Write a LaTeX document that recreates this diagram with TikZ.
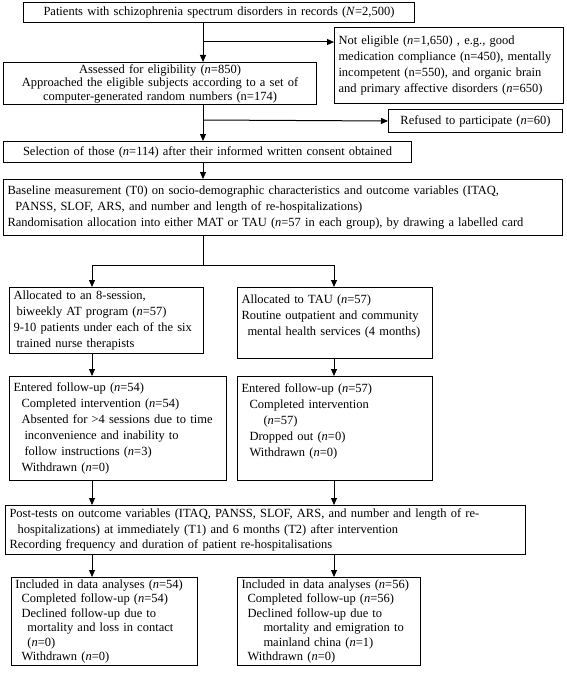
\documentclass[tikz,border=0pt]{standalone}
\usepackage{fontspec}
\setmainfont{Liberation Serif}
\usetikzlibrary{arrows.meta}
\newcommand{\nn}{\textit{n}}

\begin{document}
\begin{tikzpicture}[x=1pt, y=-1pt,
    box/.style={draw, line width=1pt, anchor=north west, inner xsep=4pt, inner ysep=2pt,
      font=\fontsize{12.5}{16}\selectfont},
    cbox/.style={box, align=center},
    lbox/.style={box, align=left},
    tight/.style={font=\fontsize{12.5}{#1}\selectfont},
    flow/.style={-{Triangle[length=7pt, width=6pt]}, line width=1pt},
    link/.style={line width=1pt}
  ]
  \useasboundingbox (0,0) rectangle (567,674);

  % Screening
  \node[cbox, text width=383pt, minimum height=20pt] (patients) at (23,2)
    {Patients with schizophrenia spectrum disorders in records (\textit{N}=2,500)};
  \node[lbox, text width=221pt, minimum height=76pt] (noteligible) at (334,27)
    {Not eligible (\nn=1,650) , e.g., good\\
     medication compliance (n=450), mentally\\
     incompetent (n=550), and organic brain\\
     and primary affective disorders (\nn=650)};
  \node[cbox, tight=13.5, text width=305pt, minimum height=40pt] (assessed) at (3,62)
    {Assessed for eligibility (\nn=850)\\
     Approached the eligible subjects according to a set of\\
     computer-generated random numbers (n=174)};
  \node[cbox, text width=166pt, minimum height=23pt] (refused) at (388,109)
    {Refused to participate (\nn=60)};
  \node[cbox, text width=400pt, minimum height=21pt] (selection) at (3,141)
    {Selection of those (\nn=114) after their informed written consent obtained};

  % Baseline and randomisation
  \node[lbox, text width=551pt, minimum height=56pt] (baseline) at (3,179)
    {Baseline measurement (T0) on socio-demographic characteristics and outcome variables (ITAQ,\\
     \hspace*{8pt}PANSS, SLOF, ARS, and number and length of re-hospitalizations)\\
     Randomisation allocation into either MAT or TAU (\nn=57 in each group), by drawing a labelled card};

  % Two arms
  \node[lbox, text width=186pt, minimum height=66pt] (allocmat) at (9,287)
    {Allocated to an 8-session,\\
     \hspace*{3pt}biweekly AT program (\nn=57)\\
     9-10 patients under each of the six\\
     \hspace*{3pt}trained nurse therapists};
  \node[lbox, text width=187pt, minimum height=71pt] (alloctau) at (237,287)
    {Allocated to TAU (\nn=57)\\
     Routine outpatient and community\\
     \hspace*{6pt}mental health services (4 months)\\
     \mbox{}};
  \node[lbox, text width=209pt, minimum height=104pt] (entermat) at (9,376)
    {Entered follow-up (\nn=54)\\
     \hspace*{8pt}Completed intervention (\nn=54)\\
     \hspace*{8pt}Absented for >4 sessions due to time\\
     \hspace*{11pt}inconvenience and inability to\\
     \hspace*{11pt}follow instructions (\nn=3)\\
     \hspace*{8pt}Withdrawn (\nn=0)};
  \node[lbox, text width=187pt, minimum height=104pt] (entertau) at (237,376)
    {Entered follow-up (\nn=57)\\
     \hspace*{8pt}Completed intervention\\
     \hspace*{22pt}(\nn=57)\\
     \hspace*{8pt}Dropped out (\nn=0)\\
     \hspace*{8pt}Withdrawn (\nn=0)\\
     \mbox{}};

  % Post-tests and analyses
  \node[lbox, tight=15.5, text width=512pt, minimum height=49pt] (posttest) at (5,505)
    {Post-tests on outcome variables (ITAQ, PANSS, SLOF, ARS, and number and length of re-\\
     \hspace*{8pt}hospitalizations) at immediately (T1) and 6 months (T2) after intervention\\
     Recording frequency and duration of patient re-hospitalisations};
  \node[lbox, tight=14.5, text width=178pt, minimum height=88pt] (analmat) at (11,577)
    {Included in data analyses (\nn=54)\\
     \hspace*{6pt}Completed follow-up (\nn=54)\\
     \hspace*{6pt}Declined follow-up due to\\
     \hspace*{12pt}mortality and loss in contact\\
     \hspace*{12pt}(\nn=0)\\
     \hspace*{6pt}Withdrawn (\nn=0)};
  \node[lbox, tight=14.5, text width=175pt, minimum height=88pt] (analtau) at (237,577)
    {Included in data analyses (\nn=56)\\
     \hspace*{6pt}Completed follow-up (\nn=56)\\
     \hspace*{6pt}Declined follow-up due to\\
     \hspace*{22pt}mortality and emigration to\\
     \hspace*{22pt}mainland china (\nn=1)\\
     \hspace*{6pt}Withdrawn (\nn=0)};

  % Branch points
  \coordinate (excl1) at (203,42);
  \coordinate (excl2) at (203,120);
  \coordinate (split) at (203,265);
  \coordinate (lcol) at (92,265);
  \coordinate (rcol) at (334,265);

  % Main flow
  \draw[flow] (patients.south -| excl1) -- (excl1 |- assessed.north);
  \draw[flow] (excl1) -- (excl1 -| noteligible.west);
  \draw[flow] (assessed.south -| excl2) -- (excl2 |- selection.north);
  \draw[flow] (excl2) -- (refused.west);
  \draw[flow] (selection.south -| split) -- (split |- baseline.north);

  % Randomisation split
  \draw[link] (baseline.south -| split) -- (split);
  \draw[link] (lcol) -- (rcol);
  \draw[flow] (lcol) -- (lcol |- allocmat.north);
  \draw[flow] (rcol) -- (rcol |- alloctau.north);

  % Arms
  \draw[flow] (allocmat.south -| lcol) -- (lcol |- entermat.north);
  \draw[flow] (alloctau.south -| rcol) -- (rcol |- entertau.north);
  \draw[flow] (entermat.south -| lcol) -- (lcol |- posttest.north);
  \draw[flow] (entertau.south -| rcol) -- (rcol |- posttest.north);
  \draw[flow] (posttest.south -| lcol) -- (lcol |- analmat.north);
  \draw[flow] (posttest.south -| rcol) -- (rcol |- analtau.north);
\end{tikzpicture}
\end{document}
